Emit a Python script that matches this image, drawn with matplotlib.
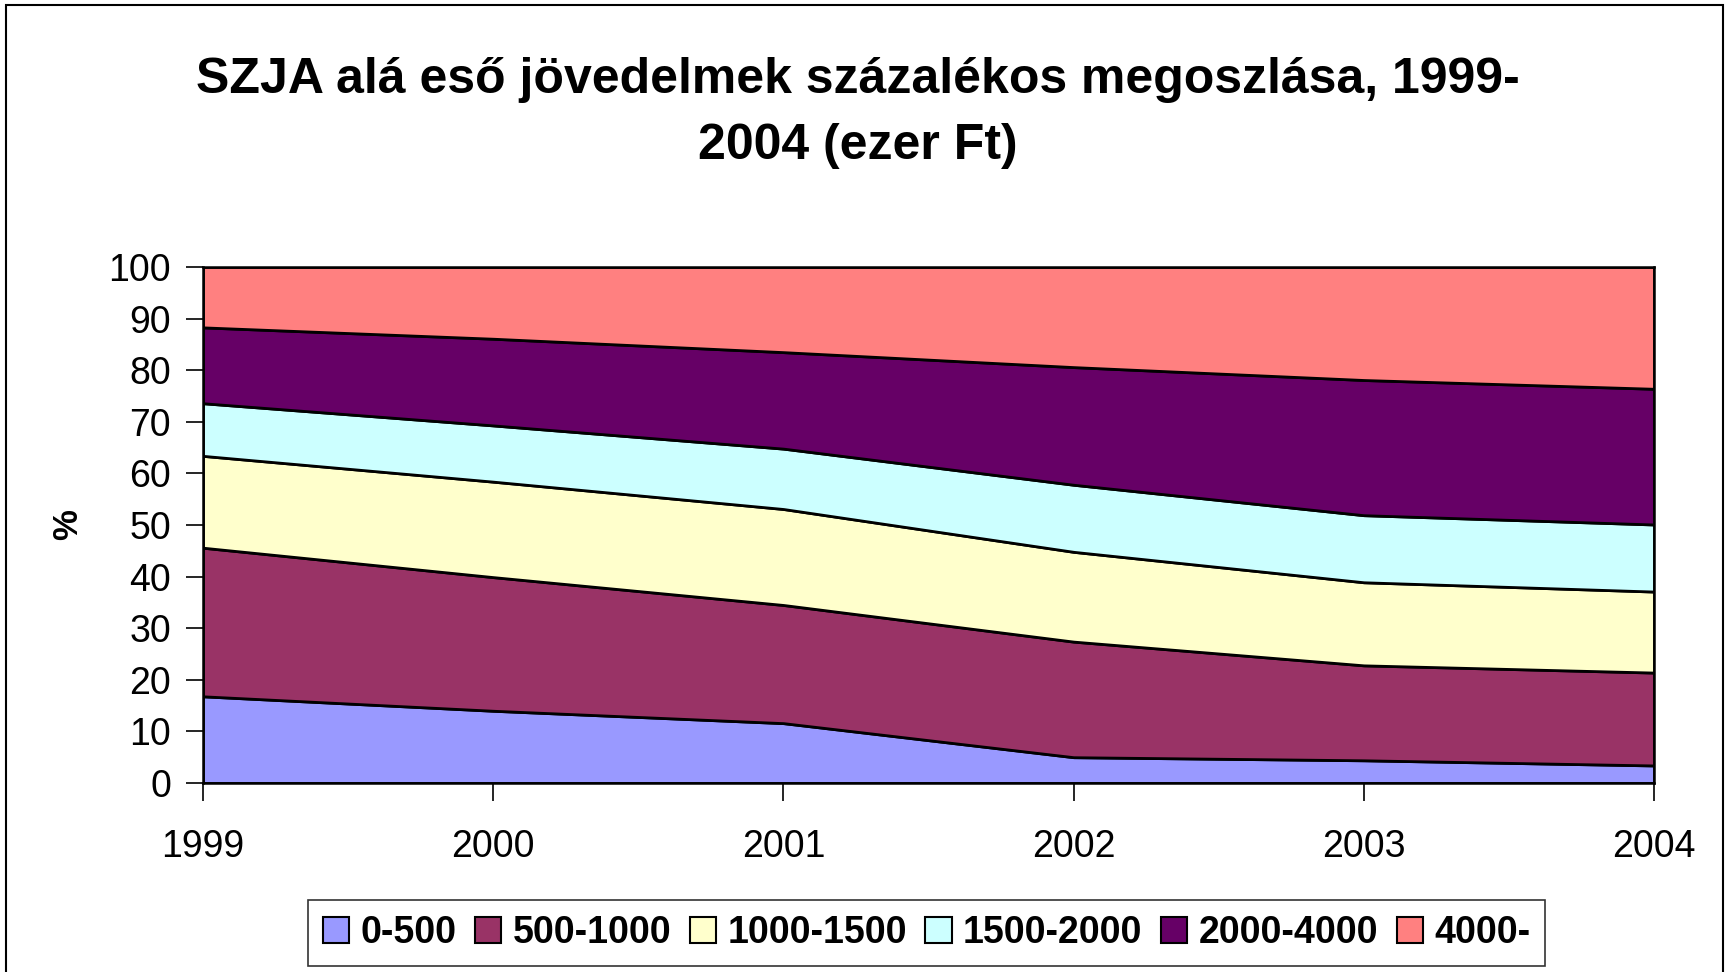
import matplotlib
matplotlib.use("Agg")
import matplotlib.pyplot as plt
import matplotlib.patches as mpatches
import numpy as np

plt.rcParams["font.family"] = ["Liberation Sans", "DejaVu Sans"]

years = [1999, 2000, 2001, 2002, 2003, 2004]
categories = ["0-500", "500-1000", "1000-1500", "1500-2000", "2000-4000", "4000-"]
s_0_500 = [16.8, 14.0, 11.6, 5.0, 4.4, 3.4]
s_500_1000 = [28.8, 25.9, 22.9, 22.4, 18.4, 18.0]
s_1000_1500 = [17.8, 18.5, 18.6, 17.4, 16.1, 15.7]
s_1500_2000 = [10.2, 10.9, 11.7, 13.0, 13.0, 13.0]
s_2000_4000 = [14.7, 16.8, 18.7, 22.8, 26.2, 26.3]
s_4000 = [11.7, 13.9, 16.5, 19.4, 21.9, 23.6]
colors = ["#9999FF", "#993366", "#FFFFCC", "#CCFFFF", "#660066", "#FF8080"]


def main() -> None:
    fig = plt.figure(figsize=(17.32, 9.72), dpi=100)
    ax = fig.add_axes([203 / 1732, 189 / 972, 1451 / 1732, 516 / 972])

    series = [s_0_500, s_500_1000, s_1000_1500, s_1500_2000, s_2000_4000, s_4000]
    ax.stackplot(years, series, colors=colors, labels=categories,
                 edgecolor="black", linewidth=2)

    ax.set_xlim(years[0], years[-1])
    ax.set_ylim(0, 100)
    ax.set_xticks(years)
    ax.set_yticks(np.arange(0, 101, 10))
    ax.tick_params(axis="y", labelsize=27, length=12, width=1.2, pad=11)
    ax.tick_params(axis="x", labelsize=27, length=13, width=1.2, pad=20)
    for sp in ax.spines.values():
        sp.set_linewidth(1.8)
        sp.set_color("black")

    fig.text(68 / 1732, 1 - 525 / 972, "%", rotation=90, fontsize=25,
             fontweight="bold", ha="center", va="center")

    fig.text(858 / 1732, 1 - 113 / 972,
             "SZJA alá eső jövedelmek százalékos megoszlása, 1999-\n2004 (ezer Ft)",
             fontsize=36, fontweight="bold", ha="center", va="center",
             linespacing=1.58)

    handles = [mpatches.Patch(facecolor=c, edgecolor="black", linewidth=1.5)
               for c in colors]
    leg = fig.legend(handles, categories, loc="center", ncol=6,
                     bbox_to_anchor=(926.5 / 1732, 1 - 933 / 972),
                     prop={"size": 27, "weight": "bold"},
                     frameon=True, fancybox=False, edgecolor="black",
                     handlelength=0.7, handleheight=0.7, handletextpad=0.3,
                     columnspacing=0.5, borderpad=0.4, borderaxespad=0)
    leg.get_frame().set_linewidth(1.2)

    border = mpatches.Rectangle((6 / 1732, -0.02), 1717 / 1732, 1.02 - 5 / 972,
                                transform=fig.transFigure, fill=False,
                                edgecolor="black", linewidth=1.5)
    fig.patches.append(border)

    fig.savefig("out.png", dpi=100)
    plt.close(fig)


if __name__ == "__main__":
    main()
